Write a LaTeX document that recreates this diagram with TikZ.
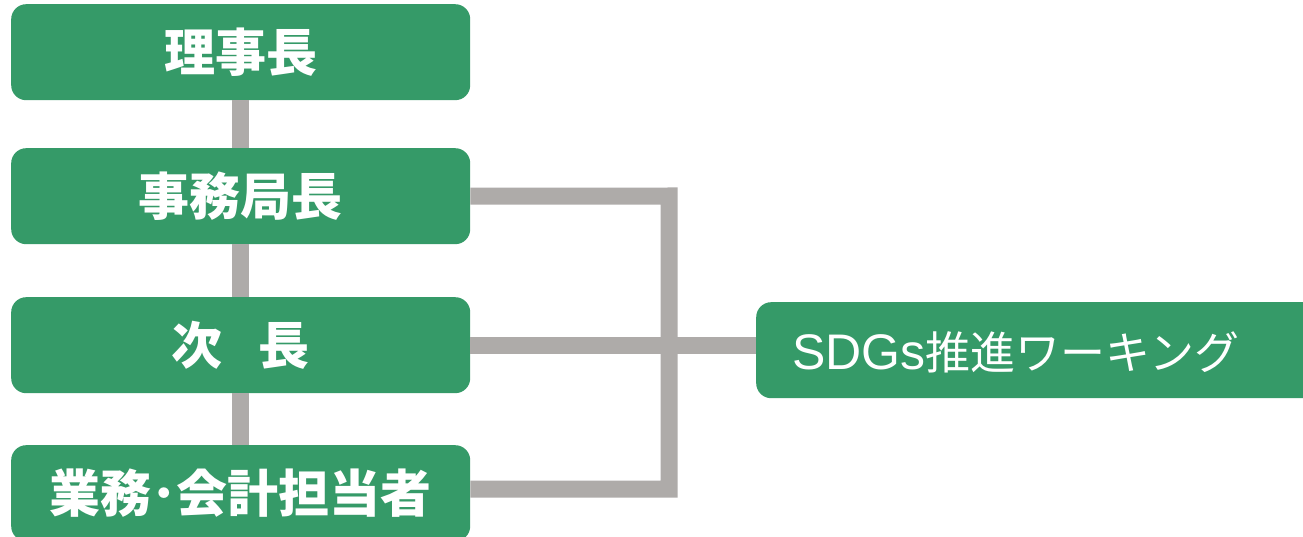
\documentclass[tikz,border=0pt]{standalone}
\usepackage{fontspec}
\newfontfamily\jp{Noto Sans CJK JP}
\newfontfamily\lat{Liberation Sans}
\definecolor{boxgreen}{HTML}{359A68}
\definecolor{linegray}{HTML}{AEABA9}
\begin{document}
\begin{tikzpicture}[x=1pt,y=-1pt,
  box/.style={fill=boxgreen, rounded corners=15pt, minimum width=459pt, minimum height=96pt, inner sep=0pt, anchor=north west, text=white, font=\jp\bfseries\fontsize{51}{51}\selectfont},
  conn/.style={draw=linegray, line width=17pt}]
\clip (0,0) rectangle (1303,537);
\node[box] (b1) at (11,4) {理事長};
\node[box] (b2) at (11,148) {事務局長};
\node[box] (b3) at (11,297) {次\hspace{0.7em}長};
\node[box] (b4) at (11,445) {業務･会計担当者};
\node[box, minimum width=580pt] (wg) at (756,302) {};
\node[anchor=west, inner sep=0pt, text=white] (wgt) at (792,352) {{\lat\fontsize{50}{50}\selectfont SDGs}{\jp\fontsize{45}{45}\selectfont 推進ワーキング}};
\coordinate (jt) at (669,196);
\coordinate (jb) at (669,489);
\draw[conn] (b1.south) -- (b2.north);
\draw[conn] (b2.south) -- (b3.north);
\draw[conn] (b3.south) -- (b4.north);
\draw[conn] (b2.east) -- (jt) -- (jb) -- (jb -| b4.east);
\draw[conn] (b3.east) -- (b3.east -| wg.west);
\end{tikzpicture}
\end{document}
